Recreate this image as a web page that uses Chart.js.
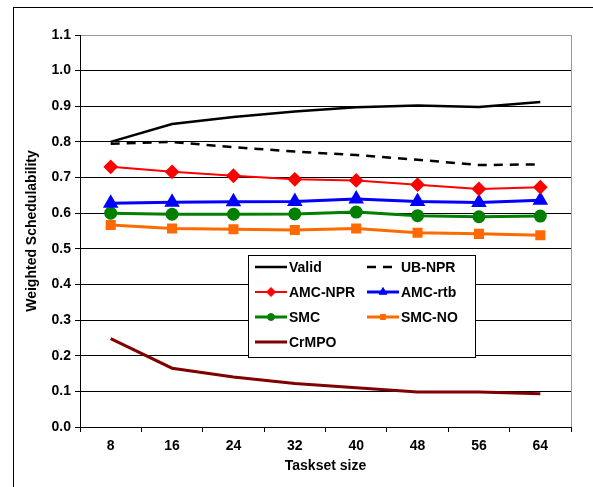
<!DOCTYPE html>
<html>
<head>
<meta charset="utf-8">
<script src="https://cdn.jsdelivr.net/npm/chart.js@4.4.0/dist/chart.umd.min.js"></script>
<style>
  html, body { margin: 0; padding: 0; background: #fff; }
  #wrap { width: 593px; height: 487px; position: relative; }
</style>
</head>
<body>
<div id="wrap"><canvas id="chart"></canvas></div>
<script>
// categories (taille des tasksets)
const tasksetSizes = ['8', '16', '24', '32', '40', '48', '56', '64'];
// valeurs
const valid   = [0.800, 0.850, 0.870, 0.885, 0.897, 0.902, 0.898, 0.912];
const ubNpr   = [0.795, 0.800, 0.785, 0.773, 0.763, 0.750, 0.735, 0.737];
const amcNpr  = [0.730, 0.716, 0.705, 0.695, 0.692, 0.680, 0.668, 0.673];
const amcRtb  = [0.628, 0.631, 0.632, 0.633, 0.640, 0.633, 0.630, 0.636];
const smc     = [0.600, 0.597, 0.597, 0.598, 0.603, 0.593, 0.590, 0.592];
const smcNo   = [0.567, 0.557, 0.555, 0.553, 0.557, 0.545, 0.542, 0.538];
const crMpo   = [0.248, 0.165, 0.140, 0.122, 0.110, 0.098, 0.098, 0.093];

const FONT = 'Liberation Sans, Arial, sans-serif';

// legende dessinee dans la zone du graphe (comme l'original)
const boxLegend = {
  id: 'boxLegend',
  beforeDraw(chart) {
    const c = chart.ctx;
    c.save();
    c.strokeStyle = '#000';
    c.lineWidth = 1;
    c.strokeRect(13.5, 7.5, 620, 500); // cadre exterieur
    c.restore();
  },
  afterDraw(chart) {
    const c = chart.ctx;
    const a = chart.chartArea;
    c.save();
    // bord droit gris
    c.strokeStyle = '#999';
    c.lineWidth = 1;
    c.beginPath();
    c.moveTo(a.right + 0.5, a.top);
    c.lineTo(a.right + 0.5, a.bottom);
    c.stroke();

    const x0 = a.left + 168, y0 = a.top + 220, w = 227, h = 102;
    c.fillStyle = '#fff';
    c.fillRect(x0, y0, w, h);
    c.strokeStyle = '#000';
    c.strokeRect(x0 + 0.5, y0 + 0.5, w, h);

    c.font = 'bold 14px ' + FONT;
    c.textBaseline = 'middle';
    chart.data.datasets.forEach((ds, i) => {
      const col = i % 2, row = Math.floor(i / 2);
      const lx = x0 + 7 + col * 112;
      const ly = y0 + 12 + row * 25;
      c.strokeStyle = ds.borderColor;
      c.lineWidth = ds.borderWidth;
      c.setLineDash(ds.borderDash || []);
      c.beginPath();
      c.moveTo(lx, ly);
      c.lineTo(lx + 32, ly);
      c.stroke();
      c.setLineDash([]);
      if (ds.pointRadius > 0) {
        c.fillStyle = ds.borderColor;
        c.strokeStyle = ds.borderColor;
        c.lineWidth = 1;
        Chart.helpers.drawPoint(c, {
          pointStyle: ds.pointStyle,
          radius: ds.pointRadius - 1.5,
          borderWidth: 1
        }, lx + 16, ly);
      }
      c.fillStyle = '#000';
      c.fillText(ds.label, lx + 34, ly + 1);
    });
    c.restore();
  }
};

function serie(label, data, color, width, style, radius, dash) {
  return {
    label: label,
    data: data,
    borderColor: color,
    backgroundColor: color,
    pointBackgroundColor: color,
    pointBorderColor: color,
    borderWidth: width,
    borderDash: dash,
    pointStyle: style,
    pointRadius: radius,
    pointHoverRadius: radius,
    tension: 0
  };
}

const ctx = document.getElementById('chart').getContext('2d');
new Chart(ctx, {
  type: 'line',
  data: {
    labels: tasksetSizes,
    datasets: [
      serie('Valid', valid, '#000000', 2.5, 'line', 0),
      serie('UB-NPR', ubNpr, '#000000', 2.5, 'line', 0, [9, 7]),
      serie('AMC-NPR', amcNpr, '#ff0000', 2, 'rectRot', 6),
      serie('AMC-rtb', amcRtb, '#0000ff', 3, 'triangle', 6),
      serie('SMC', smc, '#008000', 3, 'circle', 5),
      serie('SMC-NO', smcNo, '#ff6a00', 3, 'rect', 5),
      serie('CrMPO', crMpo, '#800000', 3, 'line', 0)
    ]
  },
  options: {
    responsive: true,
    maintainAspectRatio: false,
    animation: false,
    layout: { padding: { left: 20, right: 22, top: 35, bottom: 8 } },
    plugins: {
      legend: { display: false },
      tooltip: { enabled: false }
    },
    scales: {
      x: {
        offset: true,
        grid: {
          offset: true,
          drawOnChartArea: false,
          color: '#000',
          tickLength: 5
        },
        border: { color: '#000' },
        ticks: {
          color: '#000',
          font: { family: FONT, size: 14, weight: 'bold' },
          padding: 6,
          maxRotation: 0
        },
        title: {
          display: true,
          text: 'Taskset size',
          color: '#000',
          font: { family: FONT, size: 14, weight: 'bold' },
          padding: { top: 13 }
        },
        afterFit: (s) => { s.height = 52; }
      },
      y: {
        min: 0,
        max: 1.1,
        ticks: {
          stepSize: 0.1,
          color: '#000',
          font: { family: FONT, size: 14, weight: 'bold' },
          padding: 4,
          callback: (v) => v.toFixed(1)
        },
        grid: {
          color: (c) => (c.tick && c.tick.value > 1.05 ? '#999' : '#000'),
          tickColor: '#000',
          tickLength: 5
        },
        border: { color: '#000' },
        title: {
          display: true,
          text: 'Weighted Schedulability',
          color: '#000',
          font: { family: FONT, size: 14, weight: 'bold' },
          padding: { bottom: 6 }
        },
        afterFit: (s) => { s.width = 60; }
      }
    }
  },
  plugins: [boxLegend]
});
</script>
</body>
</html>
